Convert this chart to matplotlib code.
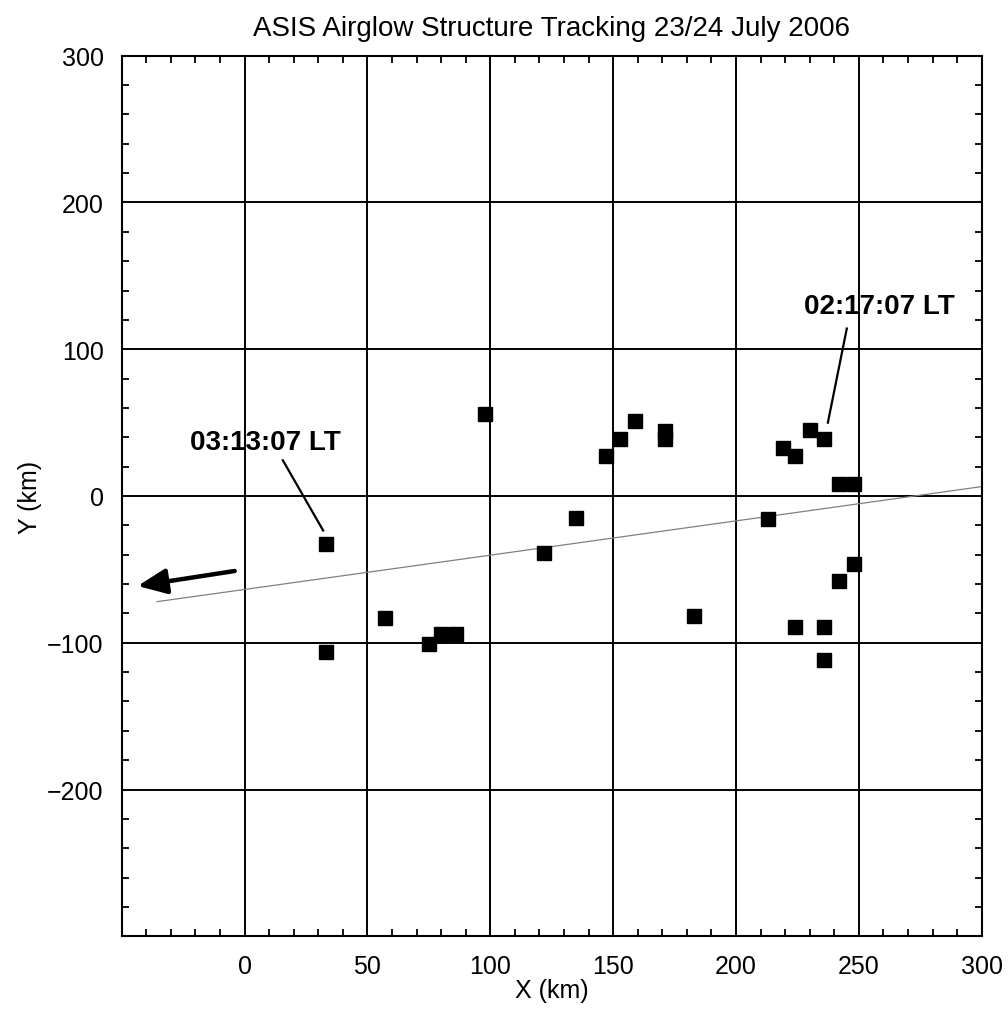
import matplotlib
matplotlib.use("Agg")
import matplotlib.pyplot as plt
from matplotlib.ticker import MultipleLocator

plt.rcParams["font.family"] = ["Liberation Sans", "DejaVu Sans"]

# Tracked airglow structure positions (km)
x_km = [33, 33, 57, 75, 80, 86, 98, 122, 135, 147, 153, 159, 171, 171, 183,
        213, 219, 224, 230, 236, 242, 248, 248, 242, 224, 236, 236]
y_km = [-33, -106, -83, -101, -94, -94, 56, -39, -15, 27, 39, 51, 44, 39, -82,
        -16, 33, 27, 45, 39, 8, 8, -46, -58, -89, -89, -112]

# Fitted track line (endpoints, km)
track_x = [-35.6, 300]
track_y = [-72.0, 6.4]

# Direction-of-motion arrow (tail -> head, km)
arrow_tail = (-4.0, -51.1)
arrow_head = (-43.5, -61.3)

# Time labels with their leader lines
labels = ["03:13:07 LT", "02:17:07 LT"]
label_x = [8.4, 258.3]
label_y = [36.6, 129.5]
leader_x = [[15.6, 32.0], [245.1, 237.4]]
leader_y = [[24.3, -23.5], [114.1, 50.0]]

fig = plt.figure(figsize=(10.08, 10.2), dpi=100)
ax = fig.add_axes([0.1207, 0.0811, 0.8532, 0.8633])

ax.set_xlim(-50, 300)
ax.set_ylim(-300, 300)

ax.xaxis.set_major_locator(MultipleLocator(50))
ax.xaxis.set_minor_locator(MultipleLocator(10))
ax.yaxis.set_major_locator(MultipleLocator(100))
ax.yaxis.set_minor_locator(MultipleLocator(20))
ax.set_xticks([0, 50, 100, 150, 200, 250, 300])
ax.set_yticks([-200, -100, 0, 100, 200, 300])
ax.set_yticklabels(["\u2212200", "\u2212100", "0", "100", "200", "300"])

ax.grid(True, which="major", color="black", linewidth=1.4)
ax.tick_params(which="both", direction="in", top=True, right=True,
               width=1.3, color="black")
ax.tick_params(which="major", length=0, labelsize=18, pad=13)
ax.tick_params(which="minor", length=5)
for s in ax.spines.values():
    s.set_linewidth(1.5)

ax.plot(track_x, track_y, color="#808080", linewidth=0.9, zorder=2)
ax.plot(x_km, y_km, linestyle="none", marker="s", markersize=9.7,
        color="black", zorder=4)

ax.annotate("", xy=arrow_head, xytext=arrow_tail,
            arrowprops=dict(arrowstyle="-|>,head_length=0.8,head_width=0.35",
                            color="black", lw=3.2, shrinkA=0, shrinkB=0,
                            mutation_scale=22),
            zorder=5)

for txt, tx, ty, lx, ly in zip(labels, label_x, label_y, leader_x, leader_y):
    ax.text(tx, ty, txt, ha="center", va="center", fontsize=20,
            fontweight="bold", zorder=6)
    ax.plot(lx, ly, color="black", linewidth=1.6, zorder=5)

ax.set_title("ASIS Airglow Structure Tracking 23/24 July 2006",
             fontsize=20, pad=15)
ax.set_xlabel("X (km)", fontsize=18, labelpad=0)
ax.set_ylabel("Y (km)", fontsize=18, labelpad=4)

fig.savefig("out.png", dpi=100)
